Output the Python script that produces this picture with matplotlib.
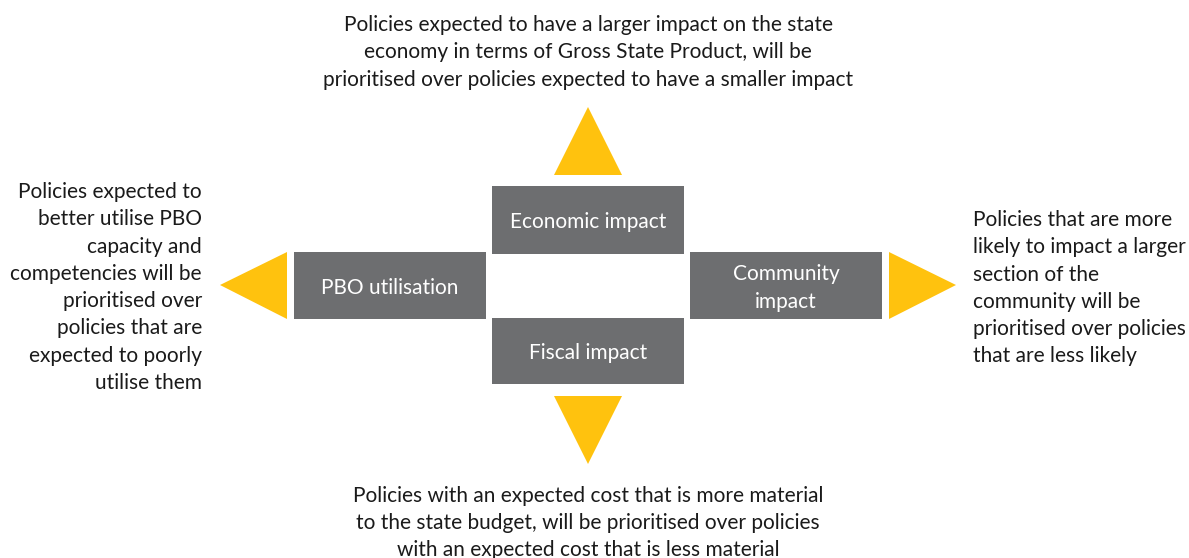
import matplotlib
matplotlib.use("Agg")
import matplotlib.pyplot as plt
from matplotlib.patches import Rectangle, Polygon

GREY = "#6D6E70"
YELLOW = "#FFC20E"
FONT = "Lato"
FS = 15.0

box_labels = ["Economic impact", "PBO utilisation", "Community\nimpact", "Fiscal impact"]
top_text = ["Policies expected to have a larger impact on the state",
            "economy in terms of Gross State Product, will be",
            "prioritised over policies expected to have a smaller impact"]
left_text = ["Policies expected to", "better utilise PBO", "capacity and",
             "competencies will be", "prioritised over", "policies that are",
             "expected to poorly", "utilise them"]
right_text = ["Policies that are more", "likely to impact a larger", "section of the",
              "community will be", "prioritised over policies", "that are less likely"]
bottom_text = ["Policies with an expected cost that is more material",
               "to the state budget, will be prioritised over policies",
               "with an expected cost that is less material"]

fig = plt.figure(figsize=(11.89, 5.58), dpi=100)
ax = fig.add_axes([0, 0, 1, 1])
ax.set_xlim(0, 1189)
ax.set_ylim(558, 0)
ax.axis("off")

# boxes: (x0, y0, w, h)
boxes = [(492, 186, 192, 68), (294, 252, 192, 67), (690, 252, 192, 67), (492, 318, 192, 66)]
for (x0, y0, w, h), lab in zip(boxes, box_labels):
    ax.add_patch(Rectangle((x0, y0), w, h, facecolor=GREY, edgecolor="none"))
    cy = y0 + h / 2 + 2
    if "\n" in lab:
        l1, l2 = lab.split("\n")
        ax.text(x0 + w / 2, cy - 14, l1, ha="center", va="center", color="white",
                fontsize=FS, family=FONT)
        ax.text(x0 + w / 2, cy + 14, l2, ha="center", va="center", color="white",
                fontsize=FS, family=FONT)
    else:
        ax.text(x0 + w / 2, cy, lab, ha="center", va="center", color="white",
                fontsize=FS, family=FONT)

tris = [
    [(588, 107), (554, 175), (622, 175)],
    [(220, 285), (287, 252), (287, 319)],
    [(956, 285), (889, 252), (889, 319)],
    [(588, 464), (554, 396), (622, 396)],
]
for t in tris:
    ax.add_patch(Polygon(t, closed=True, facecolor=YELLOW, edgecolor="none"))

LS = 27.3
def block(lines, x, y0, ha):
    for i, s in enumerate(lines):
        ax.text(x, y0 + i * LS, s, ha=ha, va="center", color="#1a1a1a", fontsize=FS, family=FONT)

block(top_text, 588, 25, "center")
block(left_text, 202, 192, "right")
block(right_text, 973, 220, "left")
block(bottom_text, 588, 495.5, "center")

fig.savefig("out.png", dpi=100)
